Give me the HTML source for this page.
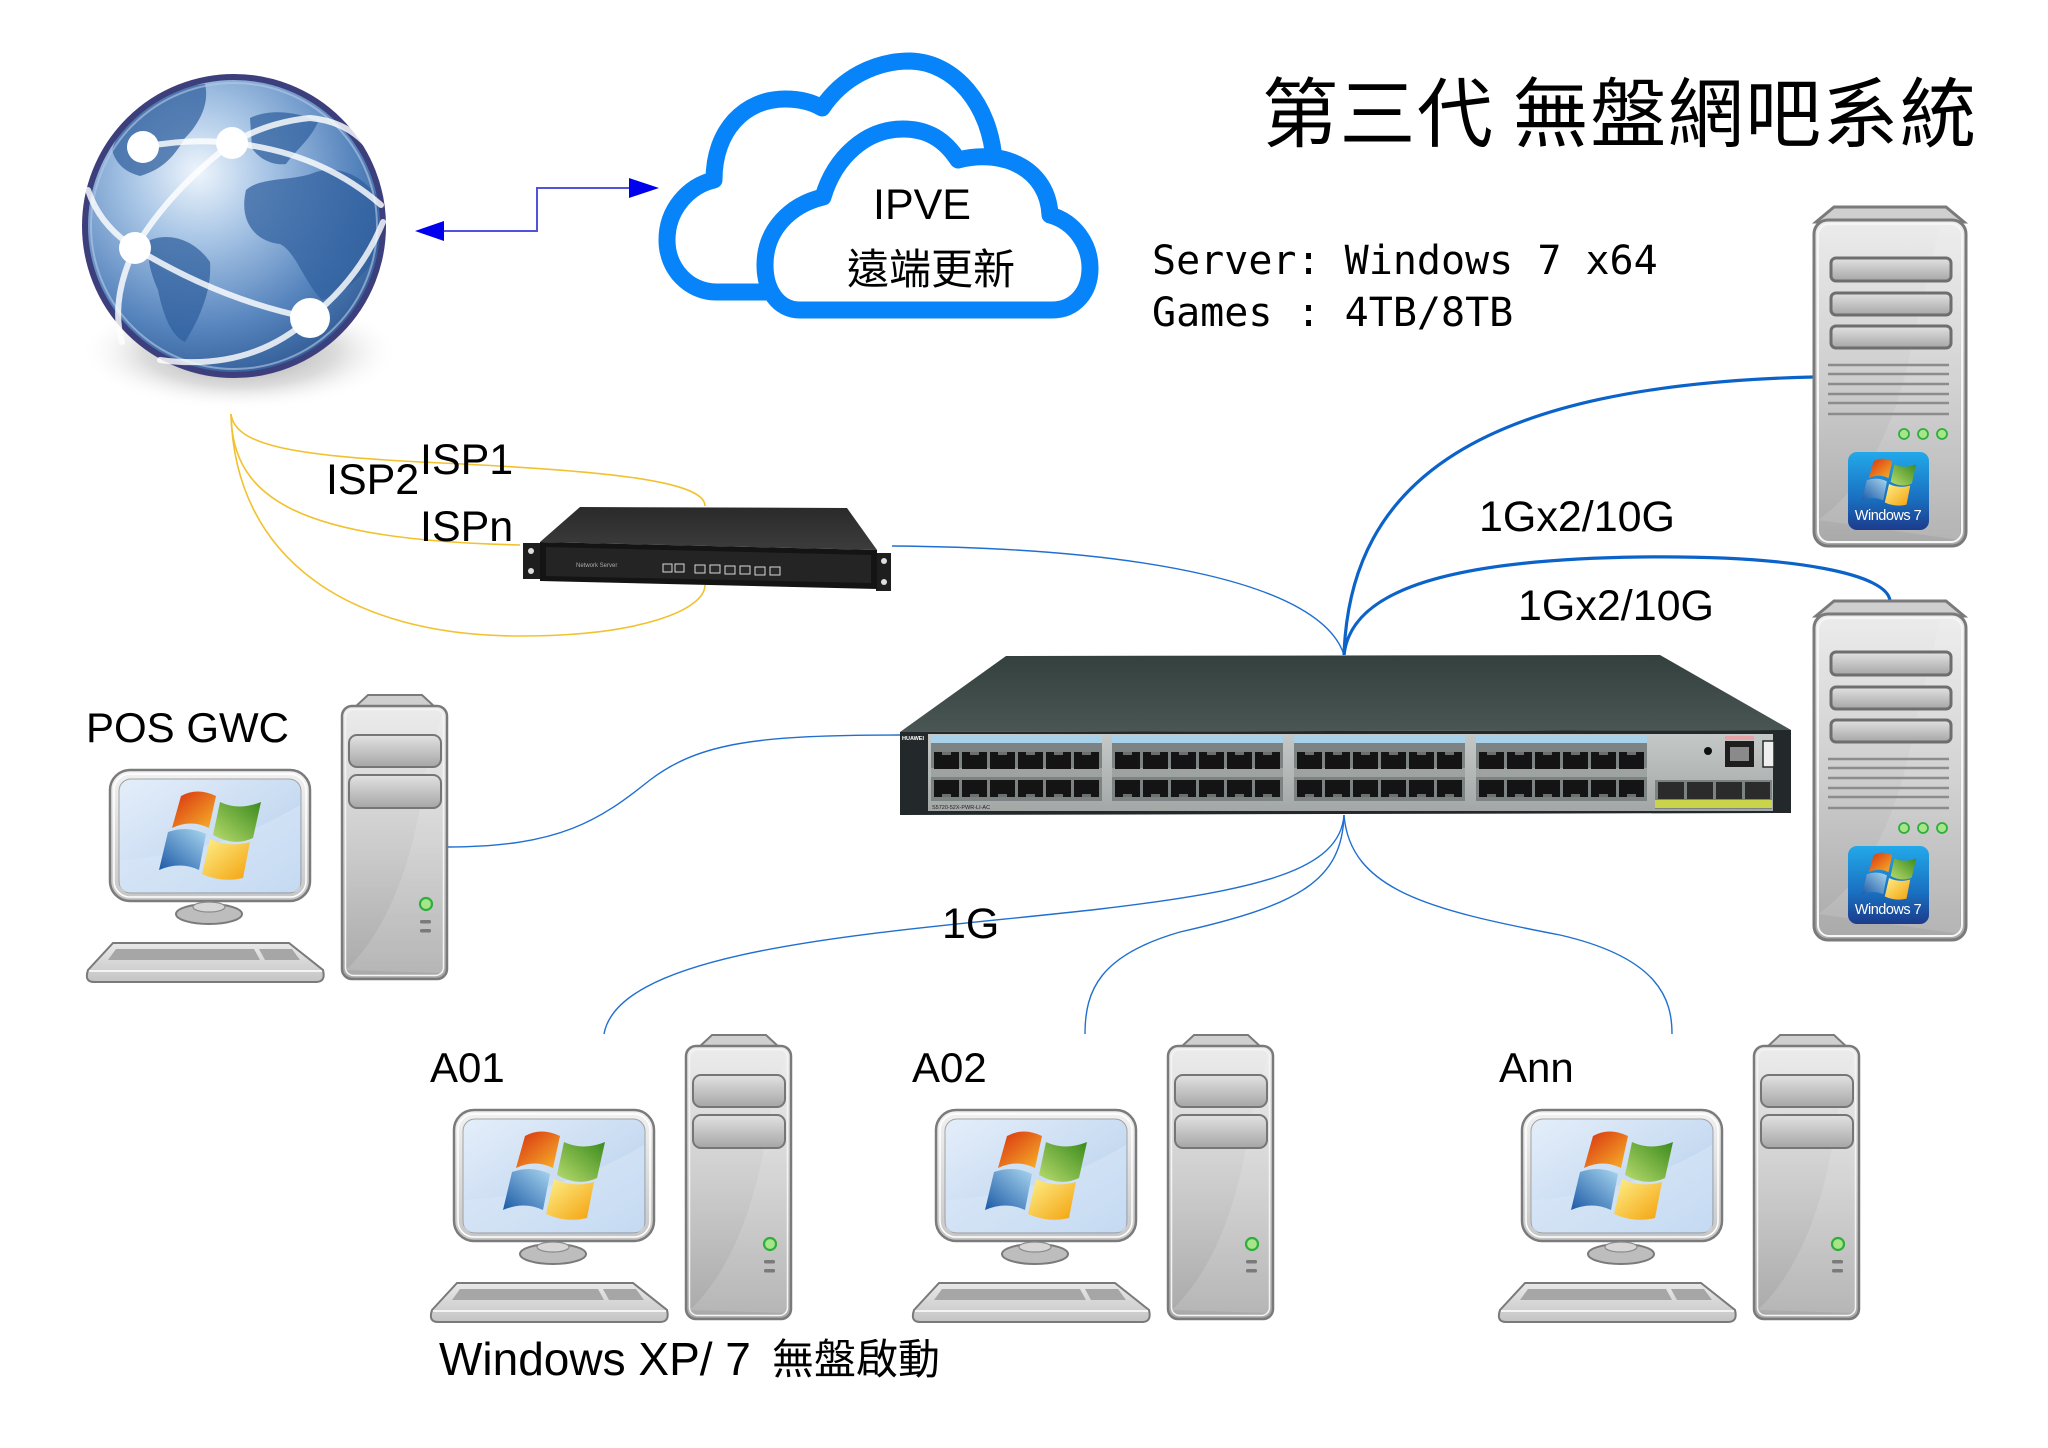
<!DOCTYPE html>
<html><head><meta charset="utf-8"><style>
html,body{margin:0;padding:0;background:#fff;}
svg{display:block;}
.lat{font-family:"Liberation Sans","Noto Sans CJK TC",sans-serif;fill:#000;}
.cjk{font-family:"Noto Sans CJK TC","WenQuanYi Zen Hei",sans-serif;fill:#000;}
.mono{font-family:"DejaVu Sans Mono","Liberation Mono",monospace;fill:#000;}
</style></head><body>
<svg width="2048" height="1448" viewBox="0 0 2048 1448" xmlns="http://www.w3.org/2000/svg">
<defs>
  <radialGradient id="globeG" cx="0.38" cy="0.32" r="0.75">
    <stop offset="0" stop-color="#eef5fc"/>
    <stop offset="0.3" stop-color="#a9c6e6"/>
    <stop offset="0.7" stop-color="#5684bd"/>
    <stop offset="1" stop-color="#2c5690"/>
  </radialGradient>
  <radialGradient id="shadowG" cx="0.5" cy="0.5" r="0.5">
    <stop offset="0" stop-color="#8a8a8a" stop-opacity="0.9"/>
    <stop offset="0.6" stop-color="#b8b8b8" stop-opacity="0.5"/>
    <stop offset="1" stop-color="#ffffff" stop-opacity="0"/>
  </radialGradient>
  <linearGradient id="towerG" x1="0" y1="0" x2="0" y2="1">
    <stop offset="0" stop-color="#ececec"/>
    <stop offset="0.5" stop-color="#cdcdcd"/>
    <stop offset="1" stop-color="#a9a9a9"/>
  </linearGradient>
  <linearGradient id="bayG" x1="0" y1="0" x2="0" y2="1">
    <stop offset="0" stop-color="#e2e2e2"/>
    <stop offset="1" stop-color="#a6a6a6"/>
  </linearGradient>
  <linearGradient id="bezelG" x1="0" y1="0" x2="0" y2="1">
    <stop offset="0" stop-color="#f2f2f2"/>
    <stop offset="1" stop-color="#c6c6c6"/>
  </linearGradient>
  <linearGradient id="screenG" x1="0" y1="0" x2="1" y2="1">
    <stop offset="0" stop-color="#e4eefa"/>
    <stop offset="0.55" stop-color="#c9dcf2"/>
    <stop offset="1" stop-color="#a9c8ec"/>
  </linearGradient>
  <linearGradient id="kbG" x1="0" y1="0" x2="0" y2="1">
    <stop offset="0" stop-color="#e9e9e9"/>
    <stop offset="1" stop-color="#c4c4c4"/>
  </linearGradient>
  <linearGradient id="redG" x1="0" y1="0" x2="1" y2="1">
    <stop offset="0" stop-color="#d8300f"/>
    <stop offset="1" stop-color="#f7b32a"/>
  </linearGradient>
  <linearGradient id="greenG" x1="0" y1="1" x2="1" y2="0">
    <stop offset="0" stop-color="#b9dc6e"/>
    <stop offset="1" stop-color="#3b8a1c"/>
  </linearGradient>
  <linearGradient id="blueG" x1="1" y1="0" x2="0" y2="1">
    <stop offset="0" stop-color="#a9d6ef"/>
    <stop offset="1" stop-color="#1b5aa6"/>
  </linearGradient>
  <linearGradient id="yelG" x1="0" y1="0" x2="1" y2="1">
    <stop offset="0" stop-color="#fdf08a"/>
    <stop offset="1" stop-color="#f4a10c"/>
  </linearGradient>
  <linearGradient id="badgeG" x1="0" y1="0" x2="0" y2="1">
    <stop offset="0" stop-color="#22a9ea"/>
    <stop offset="0.6" stop-color="#1a6fc0"/>
    <stop offset="1" stop-color="#1c3b8c"/>
  </linearGradient>
  <linearGradient id="swTopG" x1="0" y1="0" x2="0" y2="1">
    <stop offset="0" stop-color="#34403e"/>
    <stop offset="1" stop-color="#4a5654"/>
  </linearGradient>
  <linearGradient id="silverG" x1="0" y1="0" x2="0" y2="1">
    <stop offset="0" stop-color="#c4c9c8"/>
    <stop offset="1" stop-color="#a3a8a7"/>
  </linearGradient>
  <linearGradient id="rtTopG" x1="0" y1="0" x2="0" y2="1">
    <stop offset="0" stop-color="#2a2a2a"/>
    <stop offset="1" stop-color="#3c3c3c"/>
  </linearGradient>

  <g id="flag">
    <path d="M22 6 Q38 -3 57 6 L50 38 Q32 29 13 38 Z" fill="url(#redG)"/>
    <path d="M61 12 Q80 21 102 12 L94 48 Q75 57 54 45 Z" fill="url(#greenG)"/>
    <path d="M9 42 Q28 35 47 44 L40 80 Q21 71 0 80 Z" fill="url(#blueG)"/>
    <path d="M51 49 Q70 58 91 52 L84 88 Q63 93 43 84 Z" fill="url(#yelG)"/>
  </g>

  <g id="pc">
    <rect x="454" y="1110" width="200" height="131" rx="20" fill="url(#bezelG)" stroke="#7b7b7b" stroke-width="2.5"/>
    <rect x="458" y="1114" width="192" height="123" rx="16" fill="none" stroke="#ffffff" stroke-width="1.5"/>
    <rect x="463" y="1119" width="182" height="114" rx="12" fill="url(#screenG)" stroke="#a2a2a2" stroke-width="1"/>
    <path d="M464 1200 Q560 1195 644 1145 L644 1226 Q644 1232 636 1232 L472 1232 Q464 1232 464 1224 Z" fill="#d7e6f6" opacity="0.6"/>
    <use href="#flag" transform="translate(503,1130)"/>
    <ellipse cx="553" cy="1254" rx="33" ry="10" fill="#bdbdbd" stroke="#7a7a7a" stroke-width="2"/>
    <ellipse cx="553" cy="1247" rx="16" ry="5" fill="#d6d6d6" stroke="#8a8a8a" stroke-width="1.2"/>
    <path d="M457 1283 L633 1283 L667 1310 Q670 1322 660 1322 L438 1322 Q428 1322 432 1310 Z" fill="url(#kbG)" stroke="#7a7a7a" stroke-width="2"/>
    <path d="M433 1311 L666 1311" stroke="#ffffff" stroke-width="1.5"/>
    <path d="M460 1289 L598 1289 L604 1300 L452 1300 Z" fill="#a6a6a6"/>
    <path d="M603 1289 L636 1289 L644 1300 L609 1300 Z" fill="#a6a6a6"/>
    <path d="M698 1048 L712 1035 L766 1035 L780 1048 Z" fill="#cfcfcf" stroke="#7a7a7a" stroke-width="2"/>
    <rect x="686" y="1046" width="105" height="273" rx="10" fill="url(#towerG)" stroke="#7a7a7a" stroke-width="2.5"/>
    <rect x="689.5" y="1049.5" width="98" height="266" rx="8" fill="none" stroke="#f4f4f4" stroke-width="1.5"/>
    <path d="M690 1310 Q752 1250 770 1110 L787 1052 L787 1313 Z" fill="#ffffff" opacity="0.14"/>
    <rect x="693" y="1075" width="92" height="32" rx="8" fill="url(#bayG)" stroke="#767676" stroke-width="2"/>
    <rect x="693" y="1115" width="92" height="33" rx="8" fill="url(#bayG)" stroke="#767676" stroke-width="2"/>
    <circle cx="770" cy="1244" r="6" fill="#a6e58a" stroke="#2fae3c" stroke-width="2.2"/>
    <rect x="764" y="1260" width="11" height="3.5" rx="1.5" fill="#7a7a7a"/>
    <rect x="764" y="1269" width="11" height="3.5" rx="1.5" fill="#7a7a7a"/>
  </g>

  <g id="server">
    <path d="M1816 222 L1834 207 L1946 207 L1964 222 Z" fill="#cfcfcf" stroke="#7a7a7a" stroke-width="3"/>
    <rect x="1814" y="220" width="152" height="326" rx="14" fill="url(#towerG)" stroke="#7a7a7a" stroke-width="3"/>
    <rect x="1818" y="224" width="144" height="318" rx="11" fill="none" stroke="#f6f6f6" stroke-width="2"/>
    <path d="M1818 520 Q1890 470 1915 330 L1940 226 L1960 226 L1960 540 Z" fill="#ffffff" opacity="0.12"/>
    <rect x="1831" y="258" width="120" height="23" rx="5" fill="url(#bayG)" stroke="#6e6e6e" stroke-width="3"/>
    <rect x="1831" y="293" width="120" height="22" rx="5" fill="url(#bayG)" stroke="#6e6e6e" stroke-width="3"/>
    <rect x="1831" y="326" width="120" height="22" rx="5" fill="url(#bayG)" stroke="#6e6e6e" stroke-width="3"/>
    <g stroke="#8c8c8c" stroke-width="2.5">
      <line x1="1828" y1="365" x2="1949" y2="365"/>
      <line x1="1828" y1="374" x2="1949" y2="374"/>
      <line x1="1828" y1="384" x2="1949" y2="384"/>
      <line x1="1828" y1="394" x2="1949" y2="394"/>
      <line x1="1828" y1="403" x2="1949" y2="403"/>
      <line x1="1828" y1="414" x2="1949" y2="414"/>
    </g>
    <circle cx="1904" cy="434" r="5" fill="#a6e58a" stroke="#2fae3c" stroke-width="1.8"/>
    <circle cx="1923" cy="434" r="5" fill="#a6e58a" stroke="#2fae3c" stroke-width="1.8"/>
    <circle cx="1942" cy="434" r="5" fill="#a6e58a" stroke="#2fae3c" stroke-width="1.8"/>
    <rect x="1848" y="452" width="81" height="78" rx="9" fill="url(#badgeG)"/>
    <use href="#flag" transform="translate(1862,458) scale(0.53)"/>
    <text x="1888" y="520" text-anchor="middle" font-family="Liberation Sans, sans-serif" font-size="14.5" fill="#ffffff" letter-spacing="-0.5">Windows 7</text>
  </g>

  <g id="pg">
    <rect x="0" y="0" width="171" height="8" fill="#a9d2ea"/>
    <rect x="0" y="8" width="171" height="58" fill="#7d8382"/>
    <rect x="0" y="33" width="171" height="9" fill="#9ea3a2"/>
    <g fill="#141414">
      <rect x="3" y="17" width="25" height="17"/><rect x="31" y="17" width="25" height="17"/><rect x="59" y="17" width="25" height="17"/>
      <rect x="87" y="17" width="25" height="17"/><rect x="115" y="17" width="25" height="17"/><rect x="143" y="17" width="25" height="17"/>
      <rect x="3" y="45" width="25" height="17"/><rect x="31" y="45" width="25" height="17"/><rect x="59" y="45" width="25" height="17"/>
      <rect x="87" y="45" width="25" height="17"/><rect x="115" y="45" width="25" height="17"/><rect x="143" y="45" width="25" height="17"/>
    </g>
    <g fill="#6c6f6f">
      <rect x="11" y="17" width="9" height="3"/><rect x="39" y="17" width="9" height="3"/><rect x="67" y="17" width="9" height="3"/>
      <rect x="95" y="17" width="9" height="3"/><rect x="123" y="17" width="9" height="3"/><rect x="151" y="17" width="9" height="3"/>
      <rect x="11" y="59" width="9" height="3"/><rect x="39" y="59" width="9" height="3"/><rect x="67" y="59" width="9" height="3"/>
      <rect x="95" y="59" width="9" height="3"/><rect x="123" y="59" width="9" height="3"/><rect x="151" y="59" width="9" height="3"/>
    </g>
  </g>
</defs>

<!-- Globe -->
<ellipse cx="240" cy="352" rx="160" ry="58" fill="url(#shadowG)"/>
<circle cx="234" cy="226" r="149" fill="url(#globeG)"/>
<g fill="#2f5f9e" opacity="0.72">
  <path d="M246 190 C262 176 292 182 316 172 C340 165 362 176 377 196 L381 244 C372 272 345 292 322 300 C304 282 296 252 280 244 C258 242 238 224 246 190 Z"/>
  <path d="M250 118 C270 108 300 112 318 122 C310 140 296 150 286 164 C272 166 258 158 252 148 Z"/>
  <path d="M112 150 C125 110 160 88 205 84 C210 105 198 125 185 138 C172 160 160 170 140 176 C125 172 116 164 112 150 Z"/>
  <path d="M150 240 C170 232 195 240 210 262 C212 290 200 318 185 342 C170 336 162 310 158 290 C150 272 146 256 150 240 Z"/>
</g>
<circle cx="234" cy="226" r="149" fill="none" stroke="#3c3f7c" stroke-width="6"/>
<circle cx="234" cy="226" r="143" fill="none" stroke="#b7c9e6" stroke-width="2" opacity="0.6"/>
<g fill="none" stroke="#ffffff" stroke-width="6" opacity="0.82" stroke-linecap="round">
  <path d="M143 147 Q190 138 232 143 Q320 152 381 205"/>
  <path d="M232 143 Q268 122 310 118 Q355 122 378 160"/>
  <path d="M232 143 Q170 190 135 248 Q110 300 122 342"/>
  <path d="M88 190 Q100 226 135 248 Q220 300 310 318"/>
  <path d="M310 318 Q360 278 383 222"/>
  <path d="M310 318 Q250 372 160 360"/>
</g>
<g fill="#ffffff">
  <circle cx="143" cy="147" r="16"/>
  <circle cx="232" cy="143" r="16"/>
  <circle cx="135" cy="248" r="16"/>
  <circle cx="310" cy="318" r="20"/>
</g>

<!-- arrow globe <-> cloud -->
<path d="M440 231 L537 231 L537 188 L632 188" fill="none" stroke="#5252dc" stroke-width="2"/>
<path d="M415 231 L444 221 L444 241 Z" fill="#0000ee"/>
<path d="M659 188 L629 178 L629 198 Z" fill="#0000ee"/>

<!-- Cloud -->
<g fill="#ffffff" stroke="#0784fa" stroke-width="17" stroke-linejoin="round">
  <path d="M716 292 C690 292 667 270 667 240 C667 210 688 186 714 180 C714 130 745 99 785 99 C800 99 812 102 822 108 C842 78 875 61 910 61 C955 62 990 105 994 160 L994 292 Z"/>
  <path d="M800 310 C778 310 765 290 765 265 C765 230 790 205 823 197 C835 157 866 129 903 129 C928 129 945 140 958 160 C1005 148 1048 170 1050 215 C1075 222 1090 245 1090 268 C1090 292 1075 310 1052 310 Z"/>
</g>
<text class="lat" x="922" y="219" font-size="43" text-anchor="middle">IPVE</text>
<text class="cjk" x="931" y="284" font-size="42" text-anchor="middle">遠端更新</text>

<!-- Title & server info -->
<text class="cjk" x="1262" y="141" font-size="76" textLength="714" lengthAdjust="spacing">第三代 無盤網吧系統</text>
<text class="mono" x="1152" y="274" font-size="40" xml:space="preserve">Server: Windows 7 x64</text>
<text class="mono" x="1152" y="326" font-size="40" xml:space="preserve">Games : 4TB/8TB</text>

<!-- ISP yellow lines -->
<g fill="none" stroke="#f2c12e" stroke-width="1.6">
  <path d="M231 414 C235 445 290 455 420 462 C600 470 705 480 705 506"/>
  <path d="M231 414 C232 500 300 540 520 545"/>
  <path d="M231 414 C235 560 350 636 520 636 C640 636 705 610 705 585"/>
</g>

<!-- Router -->
<path d="M580 507 L847 508 L877 550 L540 542 Z" fill="url(#rtTopG)"/>
<path d="M523 543 L541 543 L541 579 L523 579 Z" fill="#1e1e1e"/>
<circle cx="531" cy="551" r="3" fill="#ddd"/><circle cx="531" cy="571" r="3" fill="#ddd"/>
<path d="M876 553 L891 553 L891 591 L876 591 Z" fill="#1e1e1e"/>
<circle cx="884" cy="561" r="3" fill="#ddd"/><circle cx="884" cy="582" r="3" fill="#ddd"/>
<path d="M540 542 L877 550 L877 589 L540 581 Z" fill="#141414"/>
<path d="M546 547 L871 555 L871 583 L546 576 Z" fill="#242424"/>
<text x="576" y="567" font-family="Liberation Sans, sans-serif" font-size="6" fill="#aaaaaa">Network Server</text>
<g fill="#2a2a2a" stroke="#d8d8d8" stroke-width="1">
  <rect x="663" y="564" width="9" height="8"/><rect x="675" y="564" width="9" height="8"/>
  <rect x="695" y="565" width="10" height="8"/><rect x="710" y="565" width="10" height="8"/>
  <rect x="725" y="566" width="10" height="8"/><rect x="740" y="566" width="10" height="8"/>
  <rect x="755" y="567" width="10" height="8"/><rect x="770" y="567" width="10" height="8"/>
</g>

<!-- blue connectors -->
<g fill="none" stroke="#1f6fd1" stroke-width="1.4">
  <path d="M892 546 C1150 548 1322 585 1344 655"/>
  <path d="M447 847 C560 847 600 820 650 780 C700 742 760 735 900 735"/>
  <path d="M1344 815 C1340 870 1260 890 1100 909 C900 932 620 945 604 1034"/>
  <path d="M1344 815 C1342 880 1300 905 1180 932 C1100 955 1085 990 1085 1034"/>
  <path d="M1344 815 C1350 890 1430 910 1560 935 C1660 958 1672 1000 1672 1034"/>
</g>
<g fill="none" stroke="#0b63c9" stroke-width="3.2">
  <path d="M1344 655 C1350 480 1480 385 1813 377"/>
  <path d="M1344 655 C1350 600 1420 560 1640 557 C1800 555 1888 575 1890 601"/>
</g>

<!-- Switch -->
<path d="M1006 656 L1660 655 L1791 730 L900 732 Z" fill="url(#swTopG)"/>
<path d="M900 732 L1791 730 L1791 813 L900 815 Z" fill="#23292a"/>
<rect x="928" y="734" width="845" height="77" fill="url(#silverG)"/>
<use href="#pg" transform="translate(931,735)"/>
<use href="#pg" transform="translate(1112,735)"/>
<use href="#pg" transform="translate(1294,735)"/>
<use href="#pg" transform="translate(1476,735)"/>
<rect x="1655" y="780" width="117" height="29" fill="#7d8382"/>
<g fill="#2b2b2b">
  <rect x="1658" y="782" width="26" height="17"/><rect x="1687" y="782" width="26" height="17"/>
  <rect x="1716" y="782" width="26" height="17"/><rect x="1745" y="782" width="25" height="17"/>
</g>
<rect x="1655" y="800" width="117" height="8" fill="#c9d44a"/>
<rect x="1725" y="741" width="29" height="26" fill="#1e1e1e"/>
<rect x="1730" y="747" width="19" height="14" fill="#8a8a8a"/>
<rect x="1725" y="736" width="29" height="4" fill="#e6a3a8"/>
<rect x="1763" y="741" width="11" height="26" fill="#efefef" stroke="#2a2a2a" stroke-width="1.5"/>
<circle cx="1708" cy="751" r="4" fill="#111"/>
<text x="902" y="740" font-family="Liberation Sans, sans-serif" font-size="5.5" font-weight="bold" fill="#ffffff">HUAWEI</text>
<text x="932" y="809" font-family="Liberation Sans, sans-serif" font-size="5.5" fill="#222">S5720-52X-PWR-LI-AC</text>

<!-- Servers -->
<use href="#server"/>
<use href="#server" transform="translate(0,394)"/>

<!-- PCs -->
<use href="#pc" transform="translate(-344,-340)"/>
<use href="#pc"/>
<use href="#pc" transform="translate(482,0)"/>
<use href="#pc" transform="translate(1068,0)"/>

<!-- Labels -->
<text class="lat" x="326" y="494" font-size="43">ISP2</text>
<text class="lat" x="420" y="474" font-size="43">ISP1</text>
<text class="lat" x="420" y="541" font-size="43">ISPn</text>
<text class="lat" x="1479" y="531" font-size="43">1Gx2/10G</text>
<text class="lat" x="1518" y="620" font-size="43">1Gx2/10G</text>
<text class="lat" x="942" y="938" font-size="43">1G</text>
<text class="lat" x="86" y="742" font-size="42">POS GWC</text>
<text class="lat" x="430" y="1082" font-size="42">A01</text>
<text class="lat" x="912" y="1082" font-size="42">A02</text>
<text class="lat" x="1499" y="1082" font-size="42">Ann</text>
<text class="lat" x="439" y="1375" font-size="46">Windows XP/ 7</text>
<text class="cjk" x="772" y="1374" font-size="42">無盤啟動</text>
</svg>
</body></html>
